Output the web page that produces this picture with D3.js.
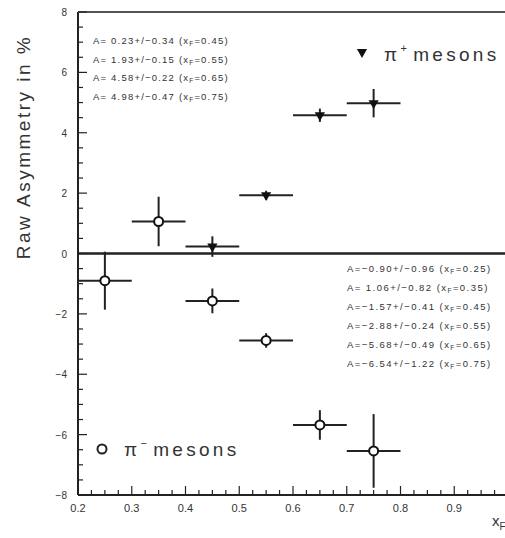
<!DOCTYPE html>
<html>
<head>
<meta charset="utf-8">
<script src="https://cdn.jsdelivr.net/npm/d3@7/dist/d3.min.js"></script>
<style>
  html, body { margin: 0; padding: 0; background: #fff; }
  svg { display: block; }
  text { font-family: "Liberation Sans", Arial, sans-serif; fill: #333; }
</style>
</head>
<body>
<svg id="chart" width="505" height="538"></svg>
<script>
// x_F bin half-width
const binHalf = 0.05;

// pi+ asymmetries (%) with errors
const piPlusX = [0.45, 0.55, 0.65, 0.75];
const piPlusA = [0.23, 1.93, 4.58, 4.98];
const piPlusErr = [0.34, 0.15, 0.22, 0.47];

// pi- asymmetries (%) with errors
const piMinusX = [0.25, 0.35, 0.45, 0.55, 0.65, 0.75];
const piMinusA = [-0.90, 1.06, -1.57, -2.88, -5.68, -6.54];
const piMinusErr = [0.96, 0.82, 0.41, 0.24, 0.49, 1.22];

// axis ticks
const xTickLabels = ["0.2", "0.3", "0.4", "0.5", "0.6", "0.7", "0.8", "0.9"];
const yTickValues = [-8, -6, -4, -2, 0, 2, 4, 6, 8];

const svg = d3.select("#chart");
const x = d3.scaleLinear().domain([0.2, 1.0]).range([78, 508]);
const y = d3.scaleLinear().domain([-8, 8]).range([495, 12]);

const fmt = v => (v < 0 ? "\u2212" : " ") + Math.abs(v).toFixed(2);

// frame: left and top edges, bottom axis
const axisG = svg.append("g").attr("stroke", "#222").attr("fill", "none");
axisG.append("line").attr("x1", x(0.2)).attr("x2", x(0.2)).attr("y1", y(8)).attr("y2", y(-8)).attr("stroke-width", 2);
axisG.append("line").attr("x1", x(0.2)).attr("x2", 505).attr("y1", y(8)).attr("y2", y(8)).attr("stroke-width", 2).attr("stroke", "#555");
axisG.append("line").attr("x1", x(0.2)).attr("x2", 505).attr("y1", y(-8)).attr("y2", y(-8)).attr("stroke-width", 2);

// zero line
axisG.append("line").attr("x1", x(0.2)).attr("x2", 505).attr("y1", y(0)).attr("y2", y(0)).attr("stroke-width", 2.4);

// y minor/major ticks (inward)
const yTicks = d3.range(-8, 8.01, 0.5);
axisG.selectAll(".yt").data(yTicks).join("line")
  .attr("x1", x(0.2)).attr("x2", d => x(0.2) + (d % 2 === 0 ? 9 : 5))
  .attr("y1", d => y(d)).attr("y2", d => y(d)).attr("stroke-width", 1.2);

// x minor/major ticks (inward)
const xTicks = d3.range(0.2, 1.0001, 0.025).map(v => +v.toFixed(3));
axisG.selectAll(".xt").data(xTicks).join("line")
  .attr("x1", d => x(d)).attr("x2", d => x(d))
  .attr("y1", y(-8)).attr("y2", d => y(-8) - (Math.abs(d * 10 - Math.round(d * 10)) < 1e-6 ? 9 : 5))
  .attr("stroke-width", 1.2);

// tick labels
svg.selectAll(".xl").data(xTickLabels).join("text")
  .attr("x", d => x(+d)).attr("y", 512)
  .attr("text-anchor", "middle").attr("font-size", 11).text(d => d);
svg.selectAll(".yl").data(yTickValues).join("text")
  .attr("x", 67).attr("y", d => y(d) + 4)
  .attr("text-anchor", "end").attr("font-size", 10)
  .text(d => d < 0 ? "\u2212" + Math.abs(d) : d);

// axis titles
svg.append("text").attr("transform", `translate(30,147) rotate(-90)`)
  .attr("text-anchor", "middle").attr("font-size", 19).attr("letter-spacing", 2.5).attr("fill", "#444")
  .text("Raw Asymmetry in %");
const xt = svg.append("text").attr("x", 492).attr("y", 526).attr("font-size", 15);
xt.append("tspan").text("x");
xt.append("tspan").attr("font-size", 10).attr("dy", 4).text("F");

// error bars
function errorBars(xs, as, es, cls) {
  const g = svg.append("g").attr("class", cls).attr("stroke", "#222").attr("stroke-width", 2);
  g.selectAll(".h").data(xs).join("line")
    .attr("x1", d => x(d - binHalf)).attr("x2", d => x(d + binHalf))
    .attr("y1", (d, i) => y(as[i])).attr("y2", (d, i) => y(as[i]));
  g.selectAll(".v").data(xs).join("line")
    .attr("x1", d => x(d)).attr("x2", d => x(d))
    .attr("y1", (d, i) => y(as[i] - es[i])).attr("y2", (d, i) => y(as[i] + es[i]));
}
errorBars(piPlusX, piPlusA, piPlusErr, "plus");
errorBars(piMinusX, piMinusA, piMinusErr, "minus");

// markers
const tri = d3.symbol().type(d3.symbolTriangle).size(45);
svg.selectAll(".tri").data(piPlusX).join("path")
  .attr("d", tri).attr("fill", "#111")
  .attr("transform", (d, i) => `translate(${x(d)},${y(piPlusA[i])}) rotate(180)`);
svg.selectAll(".circ").data(piMinusX).join("circle")
  .attr("cx", d => x(d)).attr("cy", (d, i) => y(piMinusA[i])).attr("r", 4.5)
  .attr("fill", "#fff").attr("stroke", "#111").attr("stroke-width", 2);

// value annotations
function annotate(xs, as, es, x0, y0, step, ls) {
  const t = svg.selectAll(null).data(xs).join("text")
    .attr("x", x0).attr("y", (d, i) => y0 + i * step)
    .attr("font-size", 9.5).attr("letter-spacing", ls);
  t.append("tspan").text((d, i) => `A=${fmt(as[i])}+/\u2212${es[i].toFixed(2)} (x`);
  t.append("tspan").attr("font-size", 6.5).attr("dy", 2).text("F");
  t.append("tspan").attr("dy", -2).text(d => `=${d.toFixed(2)})`);
}
annotate(piPlusX, piPlusA, piPlusErr, 93, 44, 18.7, 1.2);
annotate(piMinusX, piMinusA, piMinusErr, 347, 272, 18.9, 1.45);

// legends
svg.append("path").attr("d", tri).attr("fill", "#111")
  .attr("transform", `translate(362,52) rotate(180)`);
const lp = svg.append("text").attr("x", 384).attr("y", 61).attr("font-size", 19)
  .attr("letter-spacing", 3.3).attr("fill", "#444");
lp.append("tspan").text("\u03c0");
lp.append("tspan").attr("font-size", 11).attr("dy", -9).text("+");
lp.append("tspan").attr("dy", 9).attr("dx", 3).text("mesons");

svg.append("circle").attr("cx", 102).attr("cy", 449).attr("r", 4.5)
  .attr("fill", "#fff").attr("stroke", "#222").attr("stroke-width", 2);
const lm = svg.append("text").attr("x", 124).attr("y", 456).attr("font-size", 19)
  .attr("letter-spacing", 3.3).attr("fill", "#444");
lm.append("tspan").text("\u03c0");
lm.append("tspan").attr("font-size", 11).attr("dy", -9).text("\u2212");
lm.append("tspan").attr("dy", 9).attr("dx", 3).text("mesons");
</script>
</body>
</html>
